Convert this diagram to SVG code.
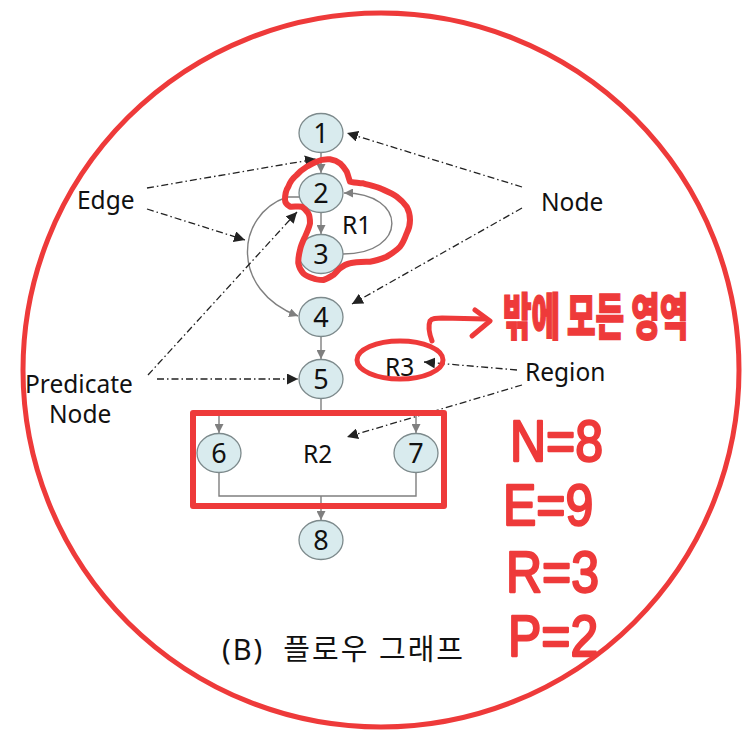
<svg xmlns="http://www.w3.org/2000/svg" width="750" height="747" viewBox="0 0 750 747">
<defs>
<style>
.node ellipse{fill:#d9ebee;stroke:#7d8a8c;stroke-width:1.3}
.node text{font-family:"Noto Sans","Open Sans",sans-serif;font-size:27px;fill:#111;text-anchor:middle}
.edge{fill:none;stroke:#7f7f7f;stroke-width:1.4}
.ptr{fill:none;stroke:#222;stroke-width:1.3;stroke-dasharray:7 3 1.5 3}
.lbl{font-family:"Noto Sans","Open Sans",sans-serif;font-size:24.5px;fill:#111}
.title{font-family:"Noto Sans","Noto Sans CJK KR",sans-serif;font-size:29px;fill:#111}
.red{fill:none;stroke:#ee3a3a;stroke-linecap:round;stroke-linejoin:round}
.hand{font-family:"Liberation Sans",sans-serif;font-size:50px;fill:#ee3a3a;stroke:#ee3a3a;stroke-width:2;stroke-linejoin:round}
.kor{font-family:"Noto Sans CJK KR",sans-serif;font-weight:900;font-size:31px;fill:#ee3a3a;stroke:#ee3a3a;stroke-width:1}
</style>
<marker id="ag" viewBox="0 0 10 10" refX="10" refY="5" markerWidth="9" markerHeight="9" markerUnits="userSpaceOnUse" orient="auto"><path d="M0,0 L10,5 L0,10 z" fill="#7f7f7f"/></marker>
<marker id="ab" viewBox="0 0 10 10" refX="10" refY="5" markerWidth="11" markerHeight="11" markerUnits="userSpaceOnUse" orient="auto"><path d="M0,0 L10,5 L0,10 z" fill="#222"/></marker>
</defs>
<rect width="750" height="747" fill="#fff"/>
<ellipse cx="381" cy="370" rx="358" ry="357" class="red" stroke-width="5"/>

<g id="connectors">
<path class="edge" d="M321,152 V173" marker-end="url(#ag)"/>
<path class="edge" d="M321,212 V234" marker-end="url(#ag)"/>
<path class="edge" d="M343,254 C408,254 408,193 344,193" marker-end="url(#ag)"/>
<path class="edge" d="M299,197 L287,197 C235,215 230,290 298,316" marker-end="url(#ag)"/>
<path class="edge" d="M321,337 V359" marker-end="url(#ag)"/>
<path class="edge" d="M321,399 V413 M219,413 H416"/>
<path class="edge" d="M219,413 V433" marker-end="url(#ag)"/>
<path class="edge" d="M416,413 V433" marker-end="url(#ag)"/>
<path class="edge" d="M219,473 V496 H416 V473"/>
<path class="edge" d="M321,496 V520" marker-end="url(#ag)"/>
<path class="ptr" d="M147,188 L316,159" marker-end="url(#ab)"/>
<path class="ptr" d="M147,209 L245,240" marker-end="url(#ab)"/>
<path class="ptr" d="M522,187 L347,133" marker-end="url(#ab)"/>
<path class="ptr" d="M522,208 L352,304" marker-end="url(#ab)"/>
<path class="ptr" d="M148,375 L297,212" marker-end="url(#ab)"/>
<path class="ptr" d="M157,379 L298,379" marker-end="url(#ab)"/>
<path class="ptr" d="M517,370 L424,362" marker-end="url(#ab)"/>
<path class="ptr" d="M522,385 L347,437" marker-end="url(#ab)"/>
</g>

<g id="n1" class="node"><ellipse cx="321" cy="133" rx="22" ry="19.5"/><text x="321" y="142.5">1</text></g>
<g id="n2" class="node"><ellipse cx="321" cy="193" rx="22" ry="19.5"/><text x="321" y="202.5">2</text></g>
<g id="n3" class="node"><ellipse cx="321" cy="254" rx="22" ry="19.5"/><text x="321" y="263.5">3</text></g>
<g id="n4" class="node"><ellipse cx="321" cy="317" rx="22" ry="19.5"/><text x="321" y="326.5">4</text></g>
<g id="n5" class="node"><ellipse cx="321" cy="379" rx="22" ry="19.5"/><text x="321" y="388.5">5</text></g>
<g id="n6" class="node"><ellipse cx="219" cy="453" rx="22" ry="19.5"/><text x="219" y="462.5">6</text></g>
<g id="n7" class="node"><ellipse cx="416" cy="453" rx="22" ry="19.5"/><text x="416" y="462.5">7</text></g>
<g id="n8" class="node"><ellipse cx="321" cy="540" rx="22" ry="19.5"/><text x="321" y="549.5">8</text></g>

<g id="labels">
<text class="lbl" x="77" y="209">Edge</text>
<text class="lbl" x="541" y="211">Node</text>
<text class="lbl" x="342" y="234">R1</text>
<text class="lbl" x="25" y="393">Predicate</text>
<text class="lbl" x="49" y="423">Node</text>
<text class="lbl" x="385" y="376">R3</text>
<text class="lbl" x="525" y="381">Region</text>
<text class="lbl" x="303" y="463">R2</text>
<text class="title" x="222" y="660" textLength="241" lengthAdjust="spacing" xml:space="preserve">(B)  플로우 그래프</text>
</g>

<g id="annotations">
<path class="red" stroke-width="6" d="M316.7,161.7 C322,159 326,159 330,159.3 C334,160 337,161 340,163.3 C343,166 345,169 346.7,171.7 C348,175 349,179 350,181.7 C354,183 359,183 363.3,183.3 C369,185 375,186 380,188.3 C386,191 392,193 396.7,196.7 C401,200 404,203 406.7,206.7 C409,211 410,216 410,220 C410,225 409,229 406.7,233.3 C405,238 403,243 400,246.7 C396,251 391,254 386.7,256.7 C381,259 375,261 370,261.7 C363,262 356,262 350,263.3 C346,264 343,266 340,268.3 C337,271 336,273 333.3,275 C330,277 327,279 323.3,280 C320,280 316,280 313.3,278.3 C309,277 306,276 303.3,273.3 C300,270 299,267 298.3,263.3 C298,258 299,254 300,250 C301,245 303,241 305,236.7 C307,232 309,228 310,223.3 C310,219 310,216 308.3,213.3 C306,210 304,208 301.7,206.7 C298,206 294,207 290,206.7 C287,205 285,203 285,200 C285,195 286,190 288.3,186.7 C290,182 293,178 296.7,175 C300,171 303,169 306.7,166.7 C310,165 313,163 316.7,161.7 Z"/>
<rect class="red" x="193" y="413" width="251" height="93" stroke-width="6"/>
<ellipse class="red" cx="400" cy="360" rx="43" ry="19" stroke-width="5"/>
<path class="red" stroke-width="5" d="M432,341 C429,333 428,326 430,321 C432,318 436,318 442,318 L486,319"/>
<path class="red" stroke-width="5" d="M475,310 L490,321 L472,336"/>
<text class="kor" x="503" y="297" transform="translate(0,-140) scale(1,1.6)">밖에 모든 영역</text>
<text class="hand" x="510" y="453" transform="translate(0,-60) scale(1,1.15)">N=8</text>
<text class="hand" x="503" y="508.7" transform="translate(0,-60) scale(1,1.15)">E=9</text>
<text class="hand" x="506" y="567" transform="translate(0,-60) scale(1,1.15)">R=3</text>
<text class="hand" x="508" y="622.6" transform="translate(0,-60) scale(1,1.15)">P=2</text>
</g>
</svg>
